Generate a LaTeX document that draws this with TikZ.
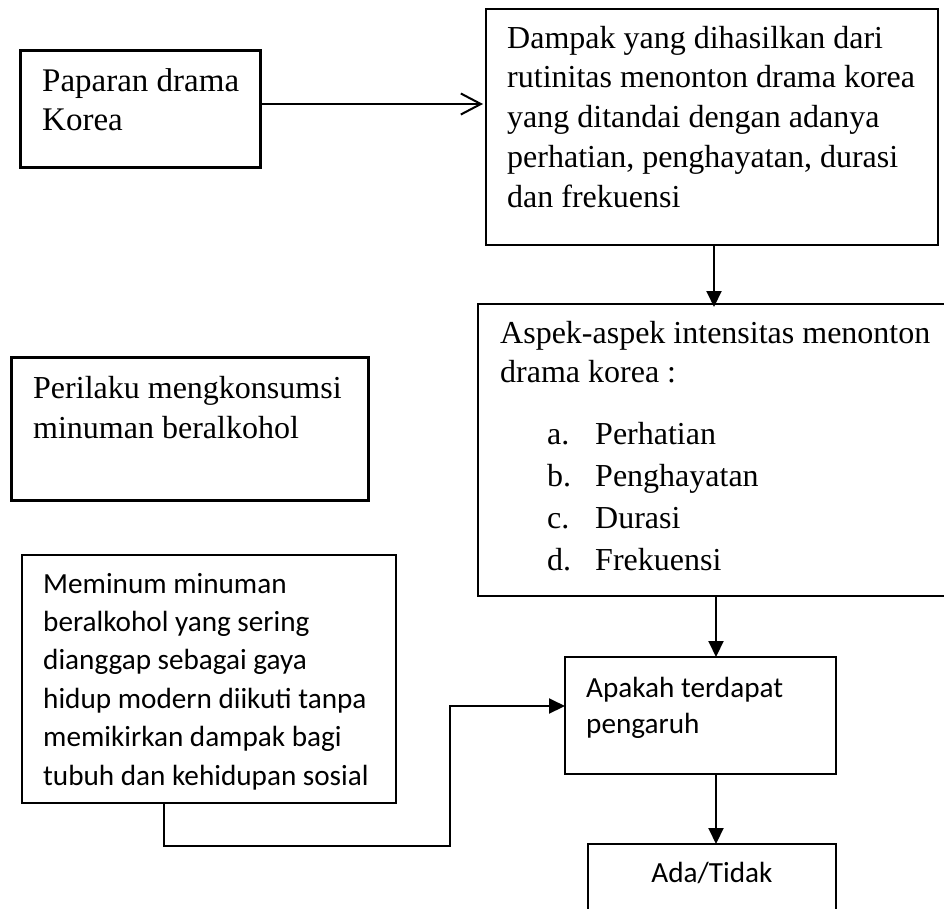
\documentclass[tikz,border=0pt]{standalone}
\usepackage{fontspec}
\setmainfont{Liberation Serif}
\newfontfamily\calibfont{Carlito}
\usetikzlibrary{arrows.meta,fit}
\begin{document}
\begin{tikzpicture}[x=1pt,y=-1pt,
  boxthin/.style={draw, line width=1.4pt, inner sep=0pt, outer sep=0pt},
  boxthick/.style={draw, line width=3pt, inner sep=0pt, outer sep=0pt},
  tnr/.style={font=\fontsize{32}{40}\selectfont, inner sep=0pt, anchor=base west},
  cal/.style={font=\calibfont\fontsize{29.2}{38}\selectfont, inner sep=0pt, anchor=base west},
  conn/.style={line width=2pt},
  filledarrow/.style={conn, -{Triangle[length=16pt,width=15pt]}},
  openarrow/.style={conn, -{Straight Barb[length=20pt,width=21pt,line width=2pt]}}
]
\useasboundingbox (0,0) rectangle (944,908);
\fill[white] (0,0) rectangle (944,908);

% boxes
\node[boxthick, fit={(20,50) (260,167)}] (pap) {};
\node[boxthin, fit={(486,9) (938,245)}] (dam) {};
\node[boxthin, line width=1.8pt, fit={(478,304) (960,596)}] (asp) {};
\node[boxthick, fit={(11,357) (368,500)}] (per) {};
\node[boxthin, fit={(22,555) (396,803)}] (mem) {};
\node[boxthin, fit={(565,657) (836,774)}] (apa) {};
\node[boxthin, fit={(588,844) (836,920)}] (ada) {};

% texts
\node[tnr, font=\fontsize{33}{40}\selectfont] (pap1) at (42,91) {Paparan drama};
\node[tnr, font=\fontsize{33}{40}\selectfont] (pap2) at (42,130) {Korea};

\foreach \t [count=\i from 0] in {Dampak yang dihasilkan dari, rutinitas menonton drama korea, yang ditandai dengan adanya, {perhatian, penghayatan, durasi}, dan frekuensi}
  \node[tnr] (dam\i) at (507,48+39.8*\i) {\t};

\node[tnr] (asp1) at (500,343) {Aspek-aspek intensitas menonton};
\node[tnr] (asp2) at (500,382) {drama korea :};
\foreach \l/\t [count=\i from 0] in {a./Perhatian, b./Penghayatan, c./Durasi, d./Frekuensi}{
  \node[tnr] (aspl\i) at (547,444+42*\i) {\l};
  \node[tnr] (aspt\i) at (595,444+42*\i) {\t};
}

\node[tnr] (per1) at (33,398) {Perilaku mengkonsumsi};
\node[tnr] (per2) at (33,438) {minuman beralkohol};

\foreach \t [count=\i from 0] in {Meminum minuman, beralkohol yang sering, dianggap sebagai gaya, hidup modern diikuti tanpa, memikirkan dampak bagi, tubuh dan kehidupan sosial}
  \node[cal] (mem\i) at (43,593+38.4*\i) {\t};

\node[cal] (apa1) at (586,697) {Apakah terdapat};
\node[cal] (apa2) at (586,733) {pengaruh};

\node[cal, anchor=base] (ada1) at (712,882) {Ada/Tidak};

% connectors
\draw[openarrow] (pap.east |- 0,104) -- ([xshift=-3pt]dam.west |- 0,104);
\draw[filledarrow] (dam.south -| 714,0) -- ([yshift=-3pt]asp.north -| 714,0);
\draw[filledarrow] (asp.south -| 716,0) -- (apa.north -| 716,0);
\draw[filledarrow] (apa.south -| 716,0) -- (ada.north -| 716,0);
\coordinate (c1) at (164,846);
\coordinate (c2) at (450,846);
\coordinate (c3) at (450,706);
\draw[filledarrow] (mem.south -| 164,0) -- (c1) -- (c2) -- (c3) -- (apa.west |- c3);
\end{tikzpicture}
\end{document}
